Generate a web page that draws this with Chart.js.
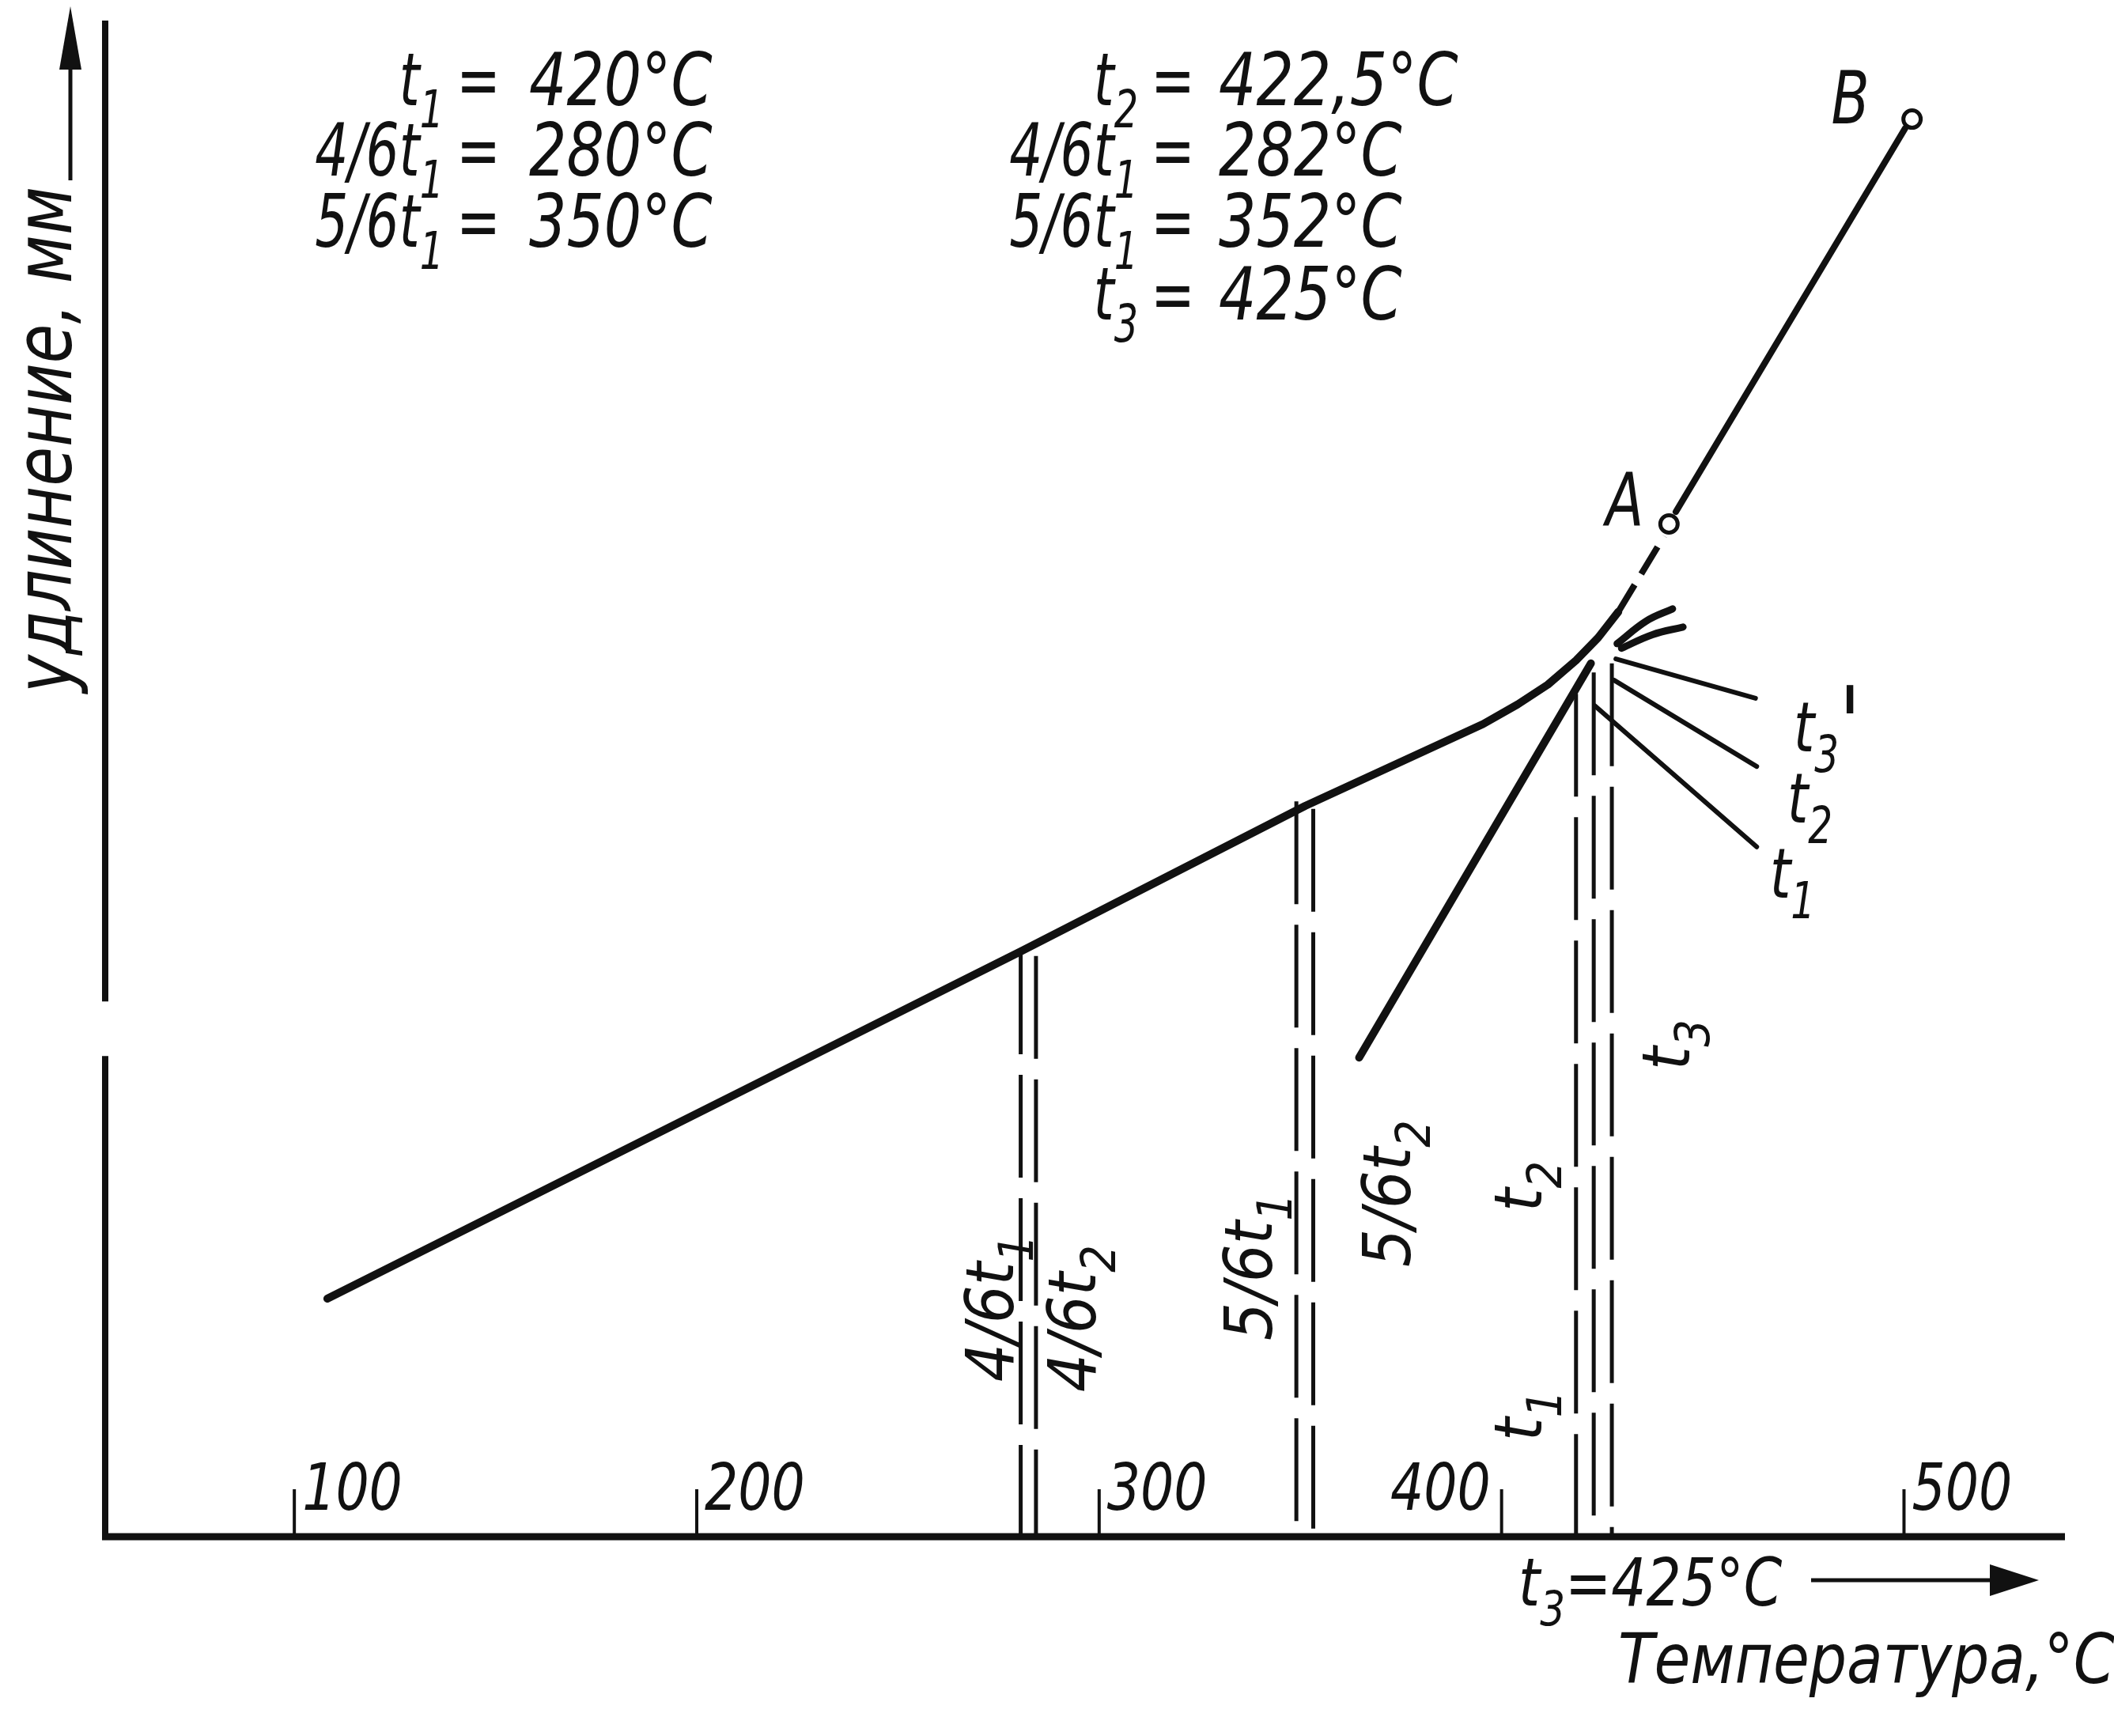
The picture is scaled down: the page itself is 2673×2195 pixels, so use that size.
<!DOCTYPE html>
<html>
<head>
<meta charset="utf-8">
<script src="https://cdn.jsdelivr.net/npm/chart.js@4.4.1/dist/chart.umd.min.js"></script>
<style>
  html, body { margin: 0; padding: 0; background: #fff; }
</style>
</head>
<body>
<canvas id="myChart" width="2673" height="2195"></canvas>
<script>
// дилатометрическая кривая (температура, °C / удлинение, усл. ед.)

const heatT = [108.2, 280.5, 351.2, 395.4, 404.0, 411.5, 418.5, 424.0, 429.0];
const heatY = [15.7, 38.6, 48.2, 53.6, 54.9, 56.2, 57.8, 59.3, 61.0];

const toAT = [429.0, 440.4];
const toAY = [61.0, 66.0];

const abT = [443.3, 500.3];
const abY = [67.6, 92.9];

const pointT = [441.6, 502.0];
const pointY = [66.8, 93.5];
const pointNames = ["A", "B"];

const coolT = [364.6, 422.2];
const coolY = [31.6, 57.6];

// короткие отрезки нагрева у точки перегиба
const stroke1T = [428.7, 436.0, 442.5];
const stroke1Y = [58.9, 60.4, 61.2];
const stroke2T = [429.8, 437.5, 445.1];
const stroke2Y = [58.6, 59.5, 60.0];

// выноски к t3', t2, t1
const leadStartT = [428.4, 427.9, 423.2];
const leadStartY = [57.9, 56.5, 54.8];
const leadEndT = [463.1, 463.4, 463.4];
const leadEndY = [55.3, 50.8, 45.5];
const leadNames = ["t_3^'", "t_2", "t_1"];

// штриховые вертикали
const markT = [280.5, 284.3, 349.0, 353.2, 418.5, 422.9, 427.4];
const markTop = [38.6, 38.3, 48.5, 48.0, 55.6, 57.0, 57.6];
const markNames = ["4/6t_1", "4/6t_2", "5/6t_1", "5/6t_2", "t_1", "t_2", "t_3"];

const tickVals = [100, 200, 300, 400, 500];
const tickLabels = ["100", "200", "300", "400", "500"];

const leftLhs = ["t_1", "4/6t_1", "5/6t_1"];
const leftRhs = ["420°C", "280°C", "350°C"];
const rightLhs = ["t_2", "4/6t_1", "5/6t_1", "t_3"];
const rightRhs = ["422,5°C", "282°C", "352°C", "425°C"];

const FONT = "'Liberation Sans Narrow','DejaVu Sans Condensed','Liberation Sans',sans-serif";
const INK = "#111";

const pts = (xs, ys) => xs.map((x, i) => ({ x: x, y: ys[i] }));

function parseRich(s) {
    return s.split(/([_^].)/).filter(Boolean).map(p => {
        if (p[0] === "_") return { t: p.slice(1), sub: true };
        if (p[0] === "^") return { t: p.slice(1), sup: true };
        return { t: p };
    });
}

// текст с индексами, сжатый по горизонтали как чертёжный шрифт
function drawRich(ctx, s, x, y, size, align, sx) {
    sx = sx || 0.85;
    const parts = parseRich(s);
    const fontOf = p => "italic " + (p.sub ? size * 0.72 : p.sup ? size * 1.5 : size) + "px " + FONT;
    let w = 0;
    parts.forEach(p => { ctx.font = fontOf(p); w += ctx.measureText(p.t).width * sx; });
    let cx = align === "right" ? x - w : align === "center" ? x - w / 2 : x;
    ctx.textAlign = "left";
    ctx.textBaseline = "alphabetic";
    parts.forEach(p => {
        ctx.font = fontOf(p);
        let yy = y;
        if (p.sub) yy = y + size * 0.3;
        if (p.sup) yy = y + size * 0.15;
        ctx.save();
        ctx.translate(cx, yy);
        ctx.scale(sx, 1);
        ctx.fillText(p.t, 0, 0);
        ctx.restore();
        cx += ctx.measureText(p.t).width * sx;
    });
}

const lineSet = (data, width, extra) => Object.assign({
    type: "line",
    data: data,
    borderColor: INK,
    borderWidth: width,
    pointRadius: 0,
    fill: false,
    tension: 0,
    borderCapStyle: "round",
    borderJoinStyle: "round",
}, extra || {});

const datasets = [];
datasets.push(lineSet(pts(heatT, heatY), 10));
datasets.push(lineSet(pts(toAT, toAY), 8, { borderDash: [40, 16], borderCapStyle: "butt" }));
datasets.push(lineSet(pts(abT, abY), 8));
datasets.push(lineSet(pts(coolT, coolY), 10));
datasets.push(lineSet(pts(stroke1T, stroke1Y), 9, { tension: 0.4 }));
datasets.push(lineSet(pts(stroke2T, stroke2Y), 9, { tension: 0.4 }));
leadStartT.forEach((t, i) => {
    datasets.push(lineSet([{ x: t, y: leadStartY[i] }, { x: leadEndT[i], y: leadEndY[i] }], 6));
});
markT.forEach((t, i) => {
    datasets.push(lineSet([{ x: t, y: markTop[i] }, { x: t, y: 0 }], 5, { borderDash: [130, 26], borderCapStyle: "butt" }));
});
datasets.push({
    type: "scatter",
    data: pts(pointT, pointY),
    pointRadius: 11,
    pointBorderWidth: 5,
    pointBackgroundColor: "#fff",
    pointBorderColor: INK,
});

const drawing = {
    id: "drawing",
    beforeDatasetsDraw(chart) {
        const ctx = chart.ctx;
        const x = chart.scales.x, y = chart.scales.y;
        const a = chart.chartArea;
        ctx.save();
        ctx.strokeStyle = INK;
        ctx.fillStyle = INK;
        ctx.lineCap = "butt";

        // ось X
        ctx.lineWidth = 9;
        ctx.beginPath();
        ctx.moveTo(a.left - 4, a.bottom);
        ctx.lineTo(a.right, a.bottom);
        ctx.stroke();

        // ось Y с разрывом
        ctx.lineWidth = 8;
        ctx.beginPath();
        ctx.moveTo(a.left, a.bottom);
        ctx.lineTo(a.left, y.getPixelForValue(31.7));
        ctx.moveTo(a.left, y.getPixelForValue(35.3));
        ctx.lineTo(a.left, a.top);
        ctx.stroke();

        // засечки
        ctx.lineWidth = 4;
        tickVals.forEach((v, i) => {
            const px = x.getPixelForValue(v);
            ctx.beginPath();
            ctx.moveTo(px, a.bottom);
            ctx.lineTo(px, a.bottom - 60);
            ctx.stroke();
            if (v === 400) {
                drawRich(ctx, tickLabels[i], px - 14, a.bottom - 34, 82, "right", 0.9);
            } else {
                drawRich(ctx, tickLabels[i], px + 10, a.bottom - 34, 82, "left", 0.9);
            }
        });
        ctx.restore();
    },
    afterDraw(chart) {
        const ctx = chart.ctx;
        const x = chart.scales.x, y = chart.scales.y;
        ctx.save();
        ctx.fillStyle = INK;
        ctx.strokeStyle = INK;

        // подпись оси Y и стрелка
        ctx.save();
        ctx.translate(90, 556);
        ctx.rotate(-Math.PI / 2);
        drawRich(ctx, "удлинение, мм", 0, 0, 100, "center", 0.9);
        ctx.restore();

        ctx.lineWidth = 5;
        ctx.beginPath();
        ctx.moveTo(89, 228);
        ctx.lineTo(89, 40);
        ctx.stroke();
        ctx.beginPath();
        ctx.moveTo(89, 8);
        ctx.lineTo(75, 88);
        ctx.lineTo(103, 88);
        ctx.closePath();
        ctx.fill();

        // подпись оси X и стрелка
        drawRich(ctx, "t_3=425°C", 1920, 2030, 84, "left", 0.92);
        ctx.lineWidth = 5;
        ctx.beginPath();
        ctx.moveTo(2290, 1998);
        ctx.lineTo(2530, 1998);
        ctx.stroke();
        ctx.beginPath();
        ctx.moveTo(2578, 1998);
        ctx.lineTo(2516, 1978);
        ctx.lineTo(2516, 2018);
        ctx.closePath();
        ctx.fill();
        drawRich(ctx, "Температура,°C", 2046, 2128, 88, "left", 0.94);

        // таблица значений
        const eqL = 605, eqR = 1483;
        const rowsL = [133, 222, 312];
        const rowsR = [133, 222, 312, 404];
        rowsL.forEach((by, i) => {
            drawRich(ctx, leftLhs[i], eqL - 44, by, 92, "right", 0.8);
            drawRich(ctx, "=", eqL, by, 92, "center", 0.8);
            drawRich(ctx, leftRhs[i], eqL + 64, by, 92, "left", 0.9);
        });
        rowsR.forEach((by, i) => {
            drawRich(ctx, rightLhs[i], eqR - 44, by, 92, "right", 0.8);
            drawRich(ctx, "=", eqR, by, 92, "center", 0.8);
            drawRich(ctx, rightRhs[i], eqR + 58, by, 92, "left", 0.9);
        });

        // точки A и B
        const pOff = [[-56, -30], [-78, -27]];
        pointT.forEach((t, i) => {
            drawRich(ctx, pointNames[i], x.getPixelForValue(t) + pOff[i][0], y.getPixelForValue(pointY[i]) + pOff[i][1] + 32, 92, "center", 0.85);
        });

        // подписи выносок
        const leadLab = [[2268, 950], [2260, 1040], [2238, 1135]];
        leadNames.forEach((n, i) => {
            drawRich(ctx, n, leadLab[i][0], leadLab[i][1], 88, "left", 0.85);
        });

        // повёрнутые подписи у штриховых линий
        const markLab = [[-36, 1654], [49, 1667], [-57, 1602], [96, 1509], [-70, 1790], [-92, 1500], [72, 1321]];
        markT.forEach((t, i) => {
            ctx.save();
            ctx.translate(x.getPixelForValue(t) + markLab[i][0], markLab[i][1]);
            ctx.rotate(-Math.PI / 2);
            drawRich(ctx, markNames[i], 0, 26, 84, "center", 1.0);
            ctx.restore();
        });
        ctx.restore();
    }
};

new Chart(document.getElementById("myChart"), {
    type: "line",
    data: { datasets: datasets },
    options: {
        responsive: false,
        animation: false,
        layout: { padding: { left: 133, right: 62, top: 26, bottom: 252 } },
        scales: {
            x: { type: "linear", min: 53, max: 540, display: false },
            y: { type: "linear", min: 0, max: 100, display: false },
        },
        elements: { line: { clip: false } },
        plugins: {
            legend: { display: false },
            tooltip: { enabled: false },
        },
    },
    plugins: [drawing],
});
</script>
</body>
</html>
